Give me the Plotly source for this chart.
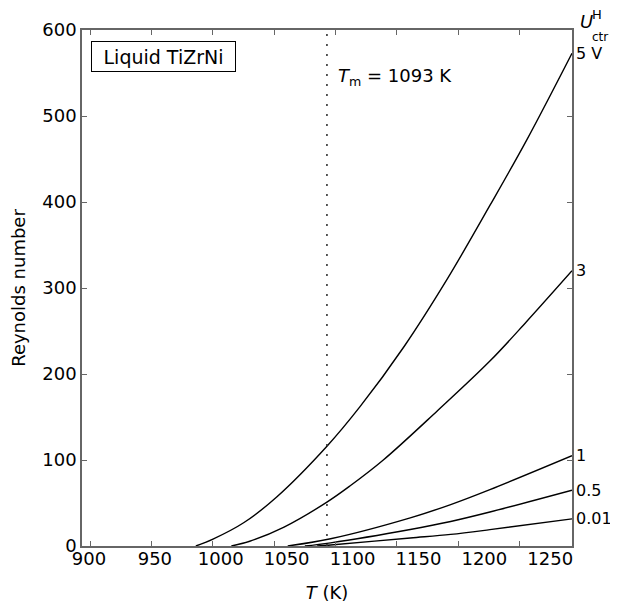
import plotly.graph_objects as go

# ---- data ----
T_5V = [986, 1000, 1025, 1052, 1093, 1120, 1156, 1191, 1226, 1256, 1293]
Re_5V = [0, 8, 27, 57, 116, 162, 232, 310, 396, 472, 573]

T_3V = [1015, 1030, 1058, 1093, 1112, 1139, 1183, 1226, 1256, 1293]
Re_3V = [0, 5.5, 22, 51, 70, 100, 157, 215, 261, 320]

T_1V = [1061, 1096, 1161, 1194, 1226, 1293]
Re_1V = [0, 8.4, 32.7, 48.2, 65.6, 105]

T_05V = [1075, 1096, 1161, 1194, 1226, 1293]
Re_05V = [0, 3.7, 19.2, 28.5, 39.5, 64.8]

T_001V = [1085, 1096, 1161, 1194, 1226, 1293]
Re_001V = [0, 1.2, 9.3, 13.5, 19.0, 31.6]

series_names = ["5 V", "3", "1", "0.5", "0.01"]
series_T = [T_5V, T_3V, T_1V, T_05V, T_001V]
series_Re = [Re_5V, Re_3V, Re_1V, Re_05V, Re_001V]

T_melt = 1093
x_ticks = [900, 950, 1000, 1050, 1100, 1150, 1200, 1250]
y_ticks = [0, 100, 200, 300, 400, 500, 600]

FONT = "DejaVu Sans"
FS = 18
AX = "#666666"

# page body has an 8px margin; figure is sized so the plot area lands at
# x 82..572, y 30..546 in the 618x607 window
W, H = 610, 599
L, R, T, B = 74, 46, 22, 61
PW, PH = W - L - R, H - T - B


def px(xw):
    return (xw - 8 - L) / PW


def py(yw):
    return (H - B + 8 - yw) / PH


fig = go.Figure()

for name, xs, ys in zip(series_names, series_T, series_Re):
    fig.add_trace(go.Scatter(x=xs, y=ys, mode="lines", name=name,
                             line=dict(color="black", width=1.4, shape="spline", smoothing=1.0),
                             showlegend=False, hoverinfo="skip"))
    fig.add_annotation(x=xs[-1], y=ys[-1], xref="x", yref="y", text=name,
                       showarrow=False, xanchor="left", yanchor="middle", xshift=2,
                       font=dict(family=FONT, size=16, color="black"))

# melting temperature line
fig.add_trace(go.Scatter(x=[T_melt, T_melt], y=[0, 600], mode="lines",
                         line=dict(color="#333333", width=1.6, dash="2px,8px"),
                         showlegend=False, hoverinfo="skip"))

# dummy trace for label axis
fig.add_trace(go.Scatter(x=[900], y=[None], xaxis="x2", mode="markers",
                         showlegend=False, hoverinfo="skip"))

fig.update_layout(
    width=W, height=H,
    margin=dict(l=L, r=R, t=T, b=B),
    paper_bgcolor="white", plot_bgcolor="white",
    font=dict(family=FONT, size=FS, color="black"),
    xaxis=dict(range=[893.1, 1293], tickvals=x_ticks, showticklabels=False,
               ticks="inside", ticklen=5, tickcolor=AX, tickwidth=1.2,
               showline=True, linecolor=AX, linewidth=1.5, mirror="ticks",
               showgrid=False, zeroline=False, automargin=False),
    xaxis2=dict(range=[894.7, 1266.5], overlaying="x", side="bottom", anchor="y",
                tickvals=x_ticks, ticks="", showline=False, showgrid=False,
                zeroline=False, automargin=False,
                tickfont=dict(family=FONT, size=FS, color="black"),
                title=dict(text="<i>T</i> (K)", font=dict(family=FONT, size=FS, color="black"),
                           standoff=18)),
    yaxis=dict(range=[0, 600], tickvals=y_ticks,
               ticks="inside", ticklen=5, tickcolor=AX, tickwidth=1.2,
               showline=True, linecolor=AX, linewidth=1.5, mirror="ticks",
               showgrid=False, zeroline=False, automargin=False,
               tickfont=dict(family=FONT, size=FS, color="black"),
               title=dict(text="Reynolds number", font=dict(family=FONT, size=FS, color="black"),
                          standoff=13)),
)

# box label
fig.add_annotation(xref="paper", yref="paper", x=px(163.5), y=py(56.5),
                   text="Liquid TiZrNi", showarrow=False, xanchor="center", yanchor="middle",
                   width=137, height=23, align="center",
                   bordercolor="black", borderwidth=1, borderpad=3, bgcolor="white",
                   font=dict(family=FONT, size=19, color="black"))

# Tm label
fig.add_annotation(xref="paper", yref="paper", x=px(336), y=py(77),
                   text="<i>T</i><sub>m</sub> = 1093 K", showarrow=False,
                   xanchor="left", yanchor="middle",
                   font=dict(family=FONT, size=FS, color="black"))

# U^H_ctr header
fig.add_annotation(xref="paper", yref="paper", x=px(578), y=py(22),
                   text="<i>U</i>", showarrow=False, xanchor="left", yanchor="middle",
                   font=dict(family=FONT, size=FS, color="black"))
fig.add_annotation(xref="paper", yref="paper", x=px(590), y=py(15),
                   text="H", showarrow=False, xanchor="left", yanchor="middle",
                   font=dict(family=FONT, size=13, color="black"))
fig.add_annotation(xref="paper", yref="paper", x=px(590), y=py(37),
                   text="ctr", showarrow=False, xanchor="left", yanchor="middle",
                   font=dict(family=FONT, size=12, color="black"))

fig.write_html("out.html")
